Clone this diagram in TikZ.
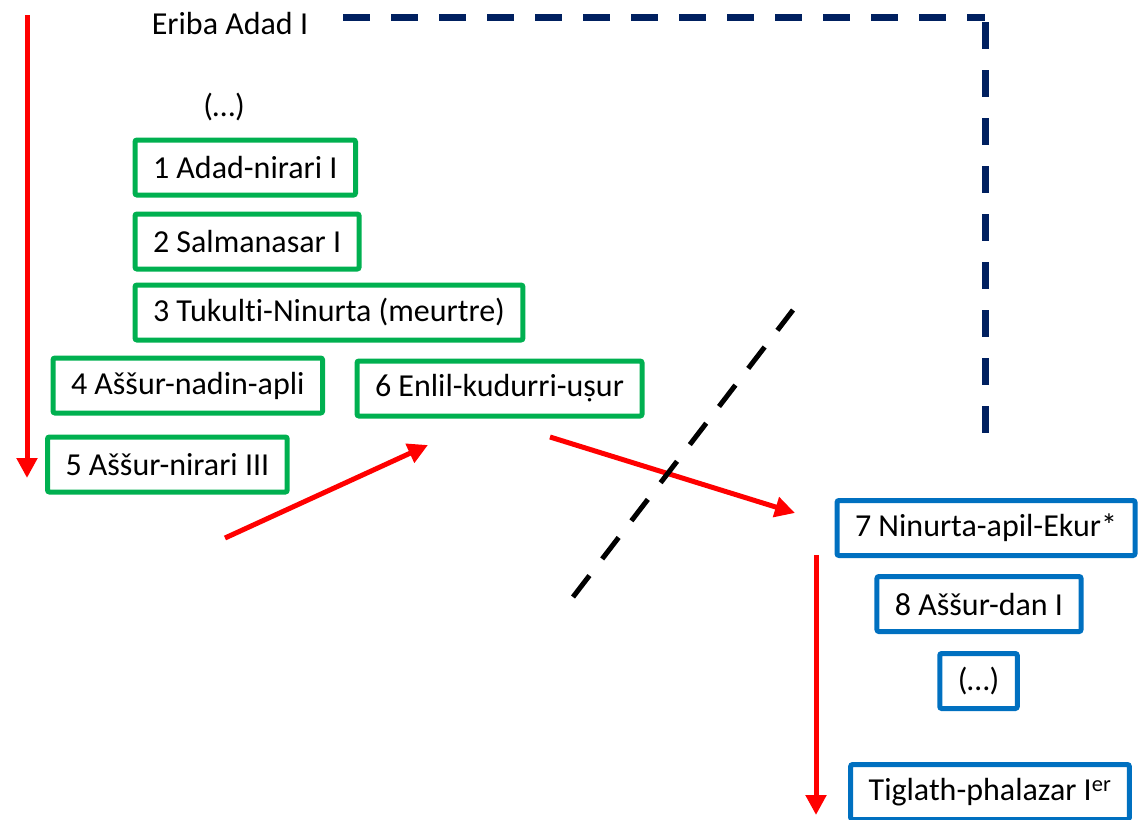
\documentclass[tikz,border=0pt]{standalone}
\usepackage{fontspec}
\setmainfont{Carlito}[Ligatures={NoCommon,TeX}]
\usepackage{tikz}
\usetikzlibrary{arrows.meta}
\definecolor{kgreen}{RGB}{0,176,80}
\definecolor{kblue}{RGB}{0,112,192}
\definecolor{knavy}{RGB}{0,32,96}
\definecolor{kred}{RGB}{255,0,0}
\tikzset{
	king/.style={draw, line width=5pt, rounded corners=2pt, inner xsep=18pt, minimum height=55pt, font=\fontsize{32}{38}\selectfont},
	oldking/.style={king, draw=kgreen},
	newking/.style={king, draw=kblue},
	plain/.style={font=\fontsize{32}{38}\selectfont},
	redarrow/.style={-{Triangle[length=20pt,width=20pt]}, draw=kred, line width=5pt},
}

\begin{document}
\begin{tikzpicture}[x=1pt, y=-1pt]
	\useasboundingbox (0,0) rectangle (1142,819);
	\node[plain] (eriba) at (230,24) {Eriba Adad I};
	\node[plain] (etc1) at (224,107) {(\dots)};
	\node[oldking, anchor=west] (r1) at (132.5,167.5) {1 Adad-nirari I};
	\node[oldking, anchor=west] (r2) at (132.5,241.5) {2 Salmanasar I};
	\node[oldking, anchor=west] (r3) at (132.5,312.5) {3 Tukulti-Ninurta (meurtre)\hspace{8pt}};
	\node[oldking, anchor=west] (r4) at (50.5,385.5) {4 Aššur-nadin-apli};
	\node[oldking, anchor=west] (r5) at (45,464.5) {5 Aššur-nirari III};
	\node[oldking, anchor=west] (r6) at (354.5,388.5) {6 Enlil-kudurri-uṣur};
	\node[newking] (r7) at (986,528) {7 Ninurta-apil-Ekur*};
	\node[newking] (r8) at (979,604) {8 Aššur-dan I};
	\node[newking] (etc2) at (978.5,681) {(\dots)};
	\node[newking] (tig) at (990,792) {Tiglath-phalazar I\textsuperscript{er}};
	% arrow ends
	\coordinate (s1) at (27,15);
	\coordinate (e1) at (27,478);
	\coordinate (s2) at (225,538);
	\coordinate (e2) at (428,445);
	\coordinate (s3) at (550,437);
	\coordinate (e3) at (795,513);
	\coordinate (s4) at (816,555);
	\coordinate (e4) at (816,815);
	\coordinate (n1) at (343,17);
	\coordinate (n2) at (985,17);
	\coordinate (n3) at (985,22);
	\coordinate (n4) at (985,433);
	\coordinate (c1) at (573,597);
	\coordinate (c2) at (793,310);
	\draw [redarrow] (s1) -- (e1);
	\draw [redarrow] (s2) -- (e2);
	\draw [redarrow] (s3) -- (e3);
	\draw [redarrow] (s4) -- (e4);
	\draw [knavy, line width=7pt, dash pattern=on 27pt off 21pt] (n1) -- (n2);
	\draw [knavy, line width=7pt, dash pattern=on 27pt off 21pt] (n3) -- (n4);
	\draw [black, line width=5pt, dash pattern=on 27pt off 21pt] (c1) -- (c2);
\end{tikzpicture}
\end{document}
